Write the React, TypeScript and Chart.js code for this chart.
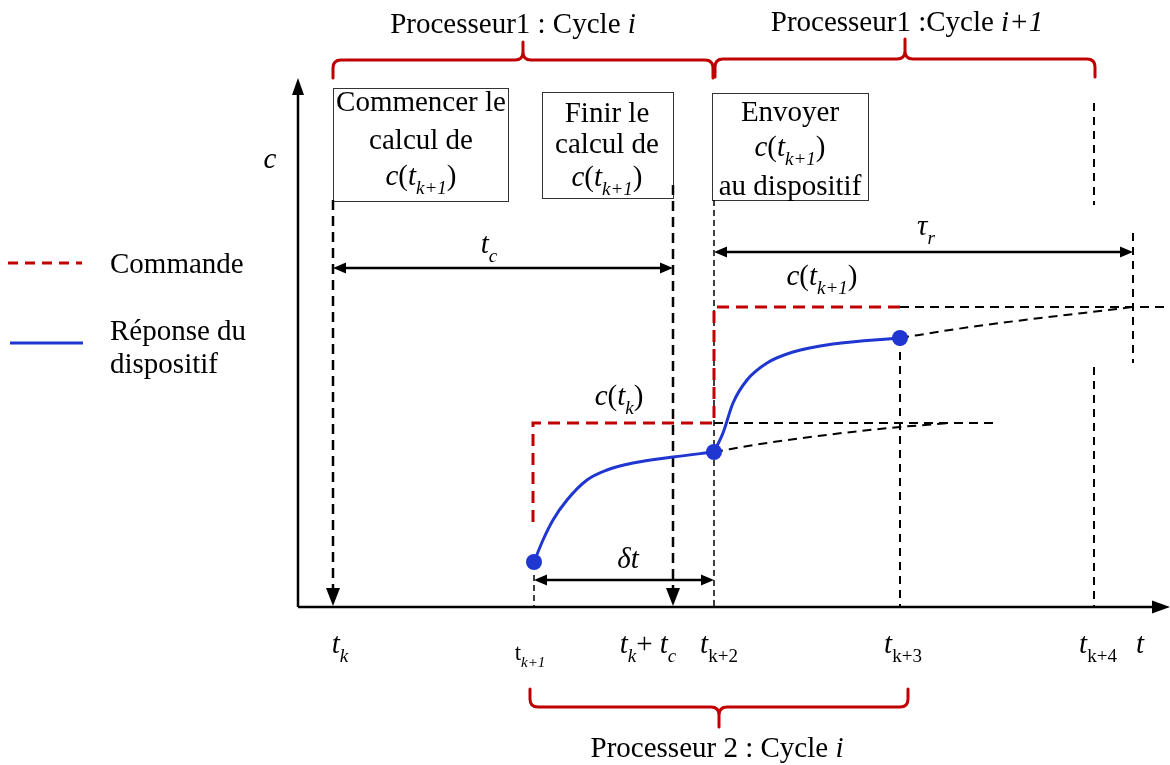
import React, { useEffect, useRef } from "react";
import { Chart, registerables } from "chart.js";
Chart.register(...registerables);

// ---------- data (t = time units, c = command units; origin where the axes cross) ----------
const tickTimes = [35, 236, 375, 416, 602, 796]; // t_k, t_k+1, t_k+t_c, t_k+2, t_k+3, t_k+4
const tauREnd = 835;
const commandLevels = [184, 300]; // c(t_k), c(t_k+1)
const commandStart = 85;
const levelLowEnd = 695;

const respLowT = [236, 245, 255, 269, 289, 309, 335, 375, 416];
const respLowC = [45, 67, 87, 107, 127, 137, 144, 150, 155];
const respHighT = [416, 425, 435, 449, 469, 495, 535, 602];
const respHighC = [155, 174, 204, 227, 244, 255, 263, 269];
const extLowT = [416, 462, 512, 562, 602, 652];
const extLowC = [155, 163, 170, 176, 180, 184];
const extHighT = [602, 652, 702, 768, 835];
const extHighC = [269, 277, 284, 292, 300];
const sampleT = [236, 416, 602];
const sampleC = [45, 155, 269];

// vertical guides: [t, c top, c bottom]
const guideThick = [
  [tickTimes[0], 407, 18],
  [tickTimes[2], 422, 18],
];
const guideThin = [
  [tickTimes[1], 32, 0],
  [tickTimes[3], 407, 0],
];
const guideMid = [
  [tickTimes[4], 269, 0],
  [tickTimes[5], 240, 0],
  [tickTimes[5], 504, 402],
  [tauREnd, 374, 244],
];

const T_MIN = -298, T_MAX = 872, C_MIN = -158, C_MAX = 607;

const RED = "#C00000";
const BLUE = "#1F36D0";
const FONT = '"Liberation Serif", "Times New Roman", serif';
const FS = 29;

type Seg = [string, string];

const zip = (ts: number[], cs: number[]) => ts.map((t, i) => ({ x: t, y: cs[i] }));

function lineDs(pts: any[], color: string, width: number, dash: number[], smooth: boolean, order: number) {
  return {
    data: pts,
    showLine: true,
    borderColor: color,
    backgroundColor: color,
    borderWidth: width,
    borderDash: dash,
    pointRadius: 0,
    tension: smooth ? 0.4 : 0,
    cubicInterpolationMode: smooth ? "monotone" : "default",
    fill: false,
    order,
  };
}

function buildDatasets() {
  const ds: any[] = [];
  guideThick.forEach(([t, a, b]) => ds.push(lineDs([{ x: t, y: a }, { x: t, y: b }], "#000", 2.5, [10, 6], false, 6)));
  guideThin.forEach(([t, a, b]) => ds.push(lineDs([{ x: t, y: a }, { x: t, y: b }], "#000", 1.5, [6, 4], false, 6)));
  guideMid.forEach(([t, a, b]) => ds.push(lineDs([{ x: t, y: a }, { x: t, y: b }], "#000", 2, [8, 6], false, 6)));
  ds.push(lineDs([{ x: tickTimes[3], y: commandLevels[0] }, { x: levelLowEnd, y: commandLevels[0] }], "#000", 2, [9, 6], false, 5));
  ds.push(lineDs([{ x: tickTimes[4], y: commandLevels[1] }, { x: T_MAX, y: commandLevels[1] }], "#000", 2, [9, 6], false, 5));
  ds.push(lineDs(zip(extLowT, extLowC), "#000", 2, [9, 6], true, 5));
  ds.push(lineDs(zip(extHighT, extHighC), "#000", 2, [9, 6], true, 5));
  ds.push(
    lineDs(
      [
        { x: tickTimes[1] - 1, y: commandStart },
        { x: tickTimes[1] - 1, y: commandLevels[0] },
        { x: tickTimes[3], y: commandLevels[0] },
        { x: tickTimes[3], y: commandLevels[1] },
        { x: tickTimes[4], y: commandLevels[1] },
      ],
      RED, 3, [12, 7], false, 4
    )
  );
  ds.push(lineDs(zip(respLowT, respLowC), BLUE, 3, [], true, 2));
  ds.push(lineDs(zip(respHighT, respHighC), BLUE, 3, [], true, 2));
  ds.push({
    data: zip(sampleT, sampleC),
    showLine: false,
    pointRadius: 8,
    pointBackgroundColor: BLUE,
    pointBorderWidth: 0,
    order: 0,
  });
  return ds;
}

function drawRich(ctx: CanvasRenderingContext2D, segs: Seg[], x: number, y: number, size: number, align: string) {
  const fontFor = (f: string) =>
    `${f.includes("i") ? "italic " : ""}${f.includes("s") ? Math.round(size * 0.66) : size}px ${FONT}`;
  const widths = segs.map(([t, f]) => {
    ctx.font = fontFor(f);
    return ctx.measureText(t).width;
  });
  const total = widths.reduce((a, b) => a + b, 0);
  let cx = align === "center" ? x - total / 2 : align === "right" ? x - total : x;
  ctx.textAlign = "left";
  ctx.textBaseline = "alphabetic";
  segs.forEach(([t, f], i) => {
    ctx.font = fontFor(f);
    ctx.fillText(t, cx, y + (f.includes("s") ? size * 0.31 : 0));
    cx += widths[i];
  });
}

function brace(ctx: CanvasRenderingContext2D, x1: number, x2: number, y: number, endLen: number, tipLen: number, dir: number) {
  const r = 8;
  const xm = (x1 + x2) / 2;
  ctx.beginPath();
  ctx.moveTo(x1, y + dir * endLen);
  ctx.lineTo(x1, y + dir * r);
  ctx.quadraticCurveTo(x1, y, x1 + r, y);
  ctx.lineTo(xm - r, y);
  ctx.quadraticCurveTo(xm, y, xm, y - dir * r);
  ctx.lineTo(xm, y - dir * tipLen);
  ctx.moveTo(xm, y - dir * r);
  ctx.quadraticCurveTo(xm, y, xm + r, y);
  ctx.lineTo(x2 - r, y);
  ctx.quadraticCurveTo(x2, y, x2, y + dir * r);
  ctx.lineTo(x2, y + dir * endLen);
  ctx.stroke();
}

function head(ctx: CanvasRenderingContext2D, tipX: number, tipY: number, dx: number, dy: number, len: number, half: number) {
  const bx = tipX - dx * len, by = tipY - dy * len;
  ctx.beginPath();
  ctx.moveTo(tipX, tipY);
  ctx.lineTo(bx - dy * half, by + dx * half);
  ctx.lineTo(bx + dy * half, by - dx * half);
  ctx.closePath();
  ctx.fill();
}

function dblArrow(ctx: CanvasRenderingContext2D, x1: number, x2: number, y: number) {
  ctx.lineWidth = 2.5;
  ctx.setLineDash([]);
  ctx.beginPath();
  ctx.moveTo(x1 + 8, y);
  ctx.lineTo(x2 - 8, y);
  ctx.stroke();
  head(ctx, x1, y, -1, 0, 13, 5.5);
  head(ctx, x2, y, 1, 0, 13, 5.5);
}

const cK1: Seg[] = [["c", "i"], ["(", ""], ["t", "i"], ["k+1", "is"], [")", ""]];

const diagramPlugin = {
  id: "diagram",
  beforeDatasetsDraw(chart: any) {
    const ctx: CanvasRenderingContext2D = chart.ctx;
    const X = (t: number) => chart.scales.x.getPixelForValue(t);
    const Y = (c: number) => chart.scales.y.getPixelForValue(c);
    ctx.save();
    ctx.fillStyle = "#fff";
    ctx.fillRect(0, 0, chart.width, chart.height);
    ctx.strokeStyle = "#000";
    ctx.fillStyle = "#000";
    ctx.lineWidth = 2.5;
    ctx.beginPath();
    ctx.moveTo(X(0), Y(0));
    ctx.lineTo(X(0), Y(515));
    ctx.moveTo(X(0), Y(0));
    ctx.lineTo(X(T_MAX) - 12, Y(0));
    ctx.stroke();
    head(ctx, X(0), Y(529), 0, -1, 17, 6);
    head(ctx, X(T_MAX), Y(0), 1, 0, 18, 6.5);
    ctx.lineWidth = 1;
    ctx.strokeStyle = "#333";
    const boxes = [
      [35, 210, 519, 406],
      [244, 375, 515, 409],
      [414, 570, 514, 407],
    ];
    boxes.forEach(([t1, t2, c1, c2]) => {
      ctx.strokeRect(X(t1) + 0.5, Y(c1) + 0.5, X(t2) - X(t1), Y(c2) - Y(c1));
    });
    ctx.restore();
  },
  afterDatasetsDraw(chart: any) {
    const ctx: CanvasRenderingContext2D = chart.ctx;
    const X = (t: number) => chart.scales.x.getPixelForValue(t);
    const Y = (c: number) => chart.scales.y.getPixelForValue(c);
    ctx.save();
    ctx.fillStyle = "#000";
    ctx.strokeStyle = "#000";
    head(ctx, X(tickTimes[0]), Y(1), 0, 1, 18, 7);
    head(ctx, X(tickTimes[2]), Y(1), 0, 1, 18, 7);
    dblArrow(ctx, X(tickTimes[0]), X(tickTimes[2]), Y(339));
    dblArrow(ctx, X(tickTimes[3]), X(tauREnd), Y(355));
    dblArrow(ctx, X(tickTimes[1]), X(tickTimes[3]), Y(27));

    ctx.strokeStyle = RED;
    ctx.lineWidth = 3;
    ctx.setLineDash([]);
    ctx.lineCap = "round";
    brace(ctx, X(35), X(415), Y(547), 18, 18, 1);
    brace(ctx, X(417), X(797), Y(548), 18, 20, 1);
    brace(ctx, X(232), X(610), Y(-100), 18, 20, -1);
    ctx.lineCap = "butt";

    ctx.fillStyle = "#000";
    drawRich(ctx, [["Processeur1 : Cycle ", ""], ["i", "i"]], X(215), Y(574), FS, "center");
    drawRich(ctx, [["Processeur1 :Cycle ", ""], ["i+1", "i"]], X(609), Y(576), FS, "center");
    drawRich(ctx, [["Processeur 2 : Cycle ", ""], ["i", "i"]], X(419), Y(-150), FS, "center");

    drawRich(ctx, [["Commencer le", ""]], X(123), Y(496), FS, "center");
    drawRich(ctx, [["calcul de", ""]], X(123), Y(458), FS, "center");
    drawRich(ctx, cK1, X(123), Y(422), FS, "center");

    drawRich(ctx, [["Finir le", ""]], X(309), Y(485), FS, "center");
    drawRich(ctx, [["calcul de", ""]], X(309), Y(454), FS, "center");
    drawRich(ctx, cK1, X(309), Y(421), FS, "center");

    drawRich(ctx, [["Envoyer", ""]], X(492), Y(486), FS, "center");
    drawRich(ctx, cK1, X(492), Y(451), FS, "center");
    drawRich(ctx, [["au dispositif", ""]], X(492), Y(412), FS, "center");

    drawRich(ctx, [["t", "i"], ["c", "is"]], X(191), Y(354), FS, "center");
    drawRich(ctx, [["\u03C4", "i"], ["r", "is"]], X(628), Y(372), FS, "center");
    drawRich(ctx, cK1, X(524), Y(322), FS, "center");
    drawRich(ctx, [["c", "i"], ["(", ""], ["t", "i"], ["k", "is"], [")", ""]], X(321), Y(202), FS, "center");
    drawRich(ctx, [["\u03B4t", "i"]], X(330), Y(39), FS, "center");
    drawRich(ctx, [["c", "i"]], X(-28), Y(439), FS, "center");

    drawRich(ctx, [["t", "i"], ["k", "is"]], X(42), Y(-46), FS, "center");
    drawRich(ctx, [["t", ""], ["k+1", "is"]], X(232), Y(-53), 23, "center");
    drawRich(ctx, [["t", "i"], ["k", "is"], ["+ ", ""], ["t", "i"], ["c", "is"]], X(350), Y(-46), FS, "center");
    drawRich(ctx, [["t", "i"], ["k+2", "s"]], X(421), Y(-46), FS, "center");
    drawRich(ctx, [["t", "i"], ["k+3", "s"]], X(605), Y(-46), FS, "center");
    drawRich(ctx, [["t", "i"], ["k+4", "s"]], X(800), Y(-46), FS, "center");
    drawRich(ctx, [["t", "i"]], X(842), Y(-46), FS, "center");

    ctx.strokeStyle = RED;
    ctx.lineWidth = 3;
    ctx.setLineDash([10, 7]);
    ctx.beginPath();
    ctx.moveTo(X(-290), Y(344));
    ctx.lineTo(X(-216), Y(344));
    ctx.stroke();
    ctx.setLineDash([]);
    ctx.strokeStyle = BLUE;
    ctx.beginPath();
    ctx.moveTo(X(-288), Y(264));
    ctx.lineTo(X(-215), Y(264));
    ctx.stroke();
    drawRich(ctx, [["Commande", ""]], X(-188), Y(334), FS, "left");
    drawRich(ctx, [["R\u00E9ponse du", ""]], X(-188), Y(267), FS, "left");
    drawRich(ctx, [["dispositif", ""]], X(-188), Y(234), FS, "left");
    ctx.restore();
  },
};

export default function App() {
  const ref = useRef<HTMLCanvasElement>(null);
  useEffect(() => {
    const canvas = ref.current;
    if (!canvas) return;
    const chart = new Chart(canvas, {
      type: "scatter",
      data: { datasets: buildDatasets() },
      options: {
        responsive: false,
        animation: false,
        events: [],
        layout: { padding: 0, autoPadding: false },
        scales: {
          x: { type: "linear", display: false, min: T_MIN, max: T_MAX },
          y: { type: "linear", display: false, min: C_MIN, max: C_MAX },
        },
        plugins: { legend: { display: false }, tooltip: { enabled: false } },
      },
      plugins: [diagramPlugin],
    } as any);
    return () => chart.destroy();
  }, []);
  return (
    <div style={{ position: "absolute", left: 0, top: 0, width: 1170, height: 765, background: "#fff" }}>
      <canvas ref={ref} width={1170} height={765} style={{ display: "block" }} />
    </div>
  );
}
